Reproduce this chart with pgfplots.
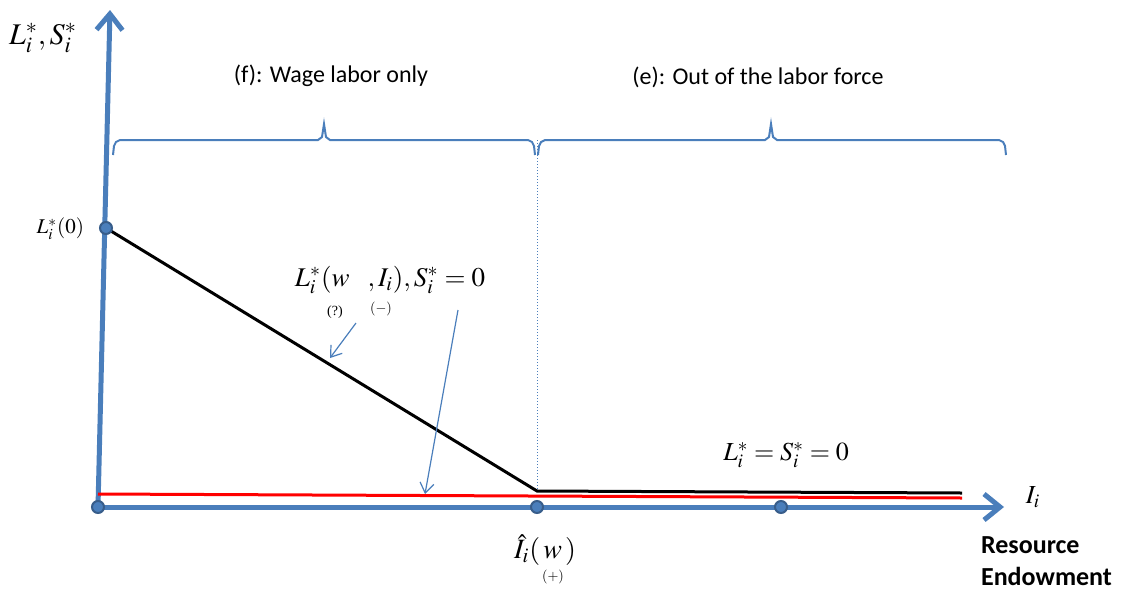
\documentclass[border=0pt]{standalone}
\usepackage{pgfplots}
\pgfplotsset{compat=1.18}
\usetikzlibrary{arrows.meta}
\usepackage{mathptmx}
\usepackage{fontspec}
\setmainfont{Liberation Serif}
\newfontfamily\calibri{Carlito}
\definecolor{axblue}{HTML}{4A7EBB}
\definecolor{ptedge}{HTML}{385D8A}

\begin{document}
\begin{tikzpicture}
\begin{axis}[
    scale only axis, width=562pt, height=295pt,
    xmin=0, xmax=1124, ymin=0, ymax=590, y dir=reverse,
    hide axis, clip=false,
]
% fix the picture frame to the full canvas
\path (axis cs:0,0) rectangle (axis cs:1124,590);

% axes (pixel-style coordinates, y downwards)
\addplot[axblue, line width=2.5pt, -{Straight Barb[length=8pt,width=13pt]}]
    coordinates {(98,507) (110,10)};
\addplot[axblue, line width=2.5pt, -{Straight Barb[length=8pt,width=13pt]}]
    coordinates {(98,507) (1004,507)};

% braces over the two regions
\addplot[axblue, line width=1pt] coordinates {
(113,155) (114,146) (116,142) (120,140) (318,140) (322,137) (324,124)
(326,137) (330,140) (528,140) (532,142) (534,146) (535,155)};
\addplot[axblue, line width=1pt] coordinates {
(538,155) (539,146) (541,142) (545,140) (765,140) (769,137) (771,124)
(773,137) (777,140) (999,140) (1003,142) (1005,146) (1006,155)};

% threshold marker
\addplot[axblue, densely dotted, line width=0.5pt] coordinates {(537,140) (537,491)};

% red: S_i^*
\addplot[red, line width=1.5pt] coordinates {(98,494) (962,498)};
% black: L_i^*
\addplot[black, line width=1.5pt] coordinates {(106,228) (537,491) (962,493)};

% pointer arrows
\addplot[axblue, line width=0.6pt, -{Straight Barb[length=5pt,width=7pt]}]
    coordinates {(356,323) (330,358)};
\addplot[axblue, line width=0.6pt, -{Straight Barb[length=5pt,width=7pt]}]
    coordinates {(458,310) (425,494)};

% points
\addplot[only marks, mark=*, mark size=3pt,
    mark options={fill=axblue, draw=ptedge, line width=1pt}]
    coordinates {(98,507) (537,507) (781,507) (106,228)};

% labels
\node at (axis cs:43,38) {\fontsize{15}{17}\selectfont $L_i^*, S_i^*$};
\node[anchor=east] at (axis cs:91,229) {\fontsize{10.5}{12}\selectfont $L_i^*(0)$};
\node at (axis cs:390,280) {\fontsize{13.5}{15}\selectfont $L_i^*(w\;\;\;, I_i), S_i^* = 0$};
\node at (axis cs:335,312) {\fontsize{7}{8}\selectfont (?)};
\node at (axis cs:381,309) {\fontsize{7}{8}\selectfont $(-)$};
\node at (axis cs:786,455) {\fontsize{13}{15}\selectfont $L_i^* = S_i^* = 0$};
\node at (axis cs:1033,497) {\fontsize{13}{15}\selectfont $I_i$};
\node at (axis cs:545,550) {\fontsize{14}{16}\selectfont $\hat{I}_i(\,w\,)$};
\node at (axis cs:553,577) {\fontsize{7}{8}\selectfont $(+)$};
\node at (axis cs:331,76) {\calibri\fontsize{12}{14}\selectfont (f): Wage labor only};
\node at (axis cs:758,77) {\calibri\fontsize{12}{14}\selectfont (e): Out of the labor force};
\node[anchor=west, align=left, font=\calibri\bfseries\fontsize{13}{16}\selectfont]
    at (axis cs:974,561) {Resource\\Endowment};
\end{axis}
\end{tikzpicture}
\end{document}
